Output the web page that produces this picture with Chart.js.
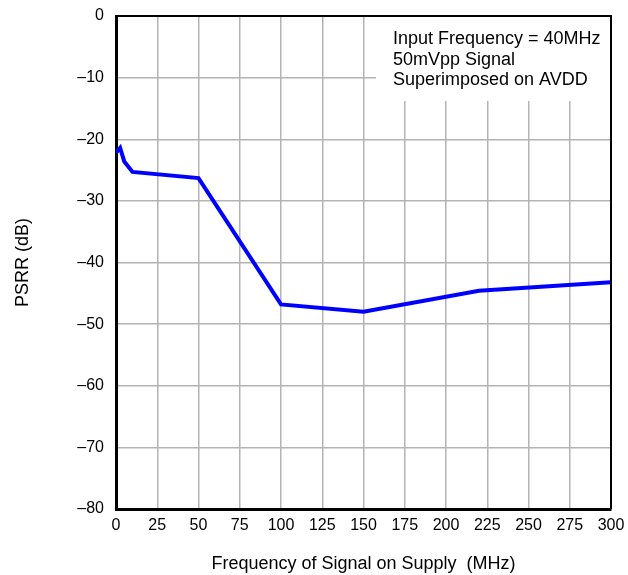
<!DOCTYPE html>
<html>
<head>
<meta charset="utf-8">
<script src="https://cdn.jsdelivr.net/npm/chart.js@4"></script>
<style>
  body { margin: 0; background: #fff; }
  #wrap { width: 628px; height: 575px; }
</style>
</head>
<body>
<div id="wrap"><canvas id="psrr_chart" width="628" height="575"></canvas></div>
<script>
// 데이터
var freqMHz = [0, 2.5, 5, 10, 50, 100, 150, 220, 300];
var psrrDb = [-22.2, -21.4, -23.6, -25.3, -26.3, -46.8, -48.0, -44.6, -43.2];
var xTicks = [0, 25, 50, 75, 100, 125, 150, 175, 200, 225, 250, 275, 300];
var yTicks = [0, -10, -20, -30, -40, -50, -60, -70, -80];
var noteLines = ["Input Frequency = 40MHz", "50mVpp Signal", "Superimposed on AVDD"];

var fontName = "'Liberation Sans', Arial, sans-serif";

// 메모 박스 + 위/오른쪽 테두리
var notePlugin = {
    id: 'noteBox',
    beforeDatasetsDraw: function (chart) {
        var ca = chart.chartArea;
        var ctx = chart.ctx;
        ctx.save();
        ctx.fillStyle = '#ffffff';
        ctx.fillRect(ca.left + 260, ca.top, ca.right - ca.left - 260, 85);
        ctx.fillStyle = '#000000';
        ctx.font = '18px ' + fontName;
        ctx.textBaseline = 'alphabetic';
        ctx.textAlign = 'left';
        for (var i = 0; i < noteLines.length; i++) {
            ctx.fillText(noteLines[i], ca.left + 277, ca.top + 28 + i * 20.7);
        }
        ctx.restore();
    },
    afterDatasetsDraw: function (chart) {
        var ca = chart.chartArea;
        var ctx = chart.ctx;
        ctx.save();
        ctx.strokeStyle = '#000000';
        ctx.lineWidth = 2;
        ctx.beginPath();
        ctx.moveTo(ca.left, ca.top);
        ctx.lineTo(ca.right, ca.top);
        ctx.lineTo(ca.right, ca.bottom);
        ctx.stroke();
        ctx.restore();
    }
};

var points = freqMHz.map(function (f, i) { return { x: f, y: psrrDb[i] }; });

new Chart(document.getElementById('psrr_chart'), {
    type: 'line',
    data: {
        datasets: [{
            data: points,
            borderColor: '#0000ff',
            borderWidth: 4,
            pointRadius: 0,
            tension: 0,
            fill: false
        }]
    },
    options: {
        responsive: false,
        animation: false,
        layout: { padding: { top: 16, right: 17, left: 0, bottom: 0 } },
        plugins: { legend: { display: false }, tooltip: { enabled: false } },
        scales: {
            x: {
                type: 'linear',
                min: 0,
                max: 300,
                afterBuildTicks: function (scale) {
                    scale.ticks = xTicks.map(function (v) { return { value: v }; });
                },
                afterFit: function (scale) {
                    scale.height = 66;
                    scale.paddingLeft = 0;
                    scale.paddingRight = 0;
                },
                grid: { color: '#b4b4b4', lineWidth: 1.5, drawTicks: false },
                border: { color: '#000000', width: 3 },
                ticks: {
                    padding: 7,
                    color: '#000000',
                    font: { family: fontName, size: 16 },
                    maxRotation: 0
                },
                title: {
                    display: true,
                    text: 'Frequency of Signal on Supply  (MHz)',
                    color: '#000000',
                    font: { family: fontName, size: 18 },
                    padding: { top: 0, bottom: 0 }
                }
            },
            y: {
                min: -80,
                max: 0,
                afterBuildTicks: function (scale) {
                    scale.ticks = yTicks.map(function (v) { return { value: v }; });
                },
                afterFit: function (scale) {
                    scale.width = 116;
                    scale.paddingTop = 0;
                    scale.paddingBottom = 0;
                },
                grid: { color: '#b4b4b4', lineWidth: 1.5, drawTicks: false },
                border: { color: '#000000', width: 3 },
                ticks: {
                    padding: 12,
                    color: '#000000',
                    font: { family: fontName, size: 16 },
                    callback: function (v) { return v === 0 ? '0' : '\u2013' + (-v); }
                },
                title: {
                    display: true,
                    text: 'PSRR (dB)',
                    color: '#000000',
                    font: { family: fontName, size: 18 },
                    padding: { top: 12, bottom: 0 }
                }
            }
        }
    },
    plugins: [notePlugin]
});
</script>
</body>
</html>
